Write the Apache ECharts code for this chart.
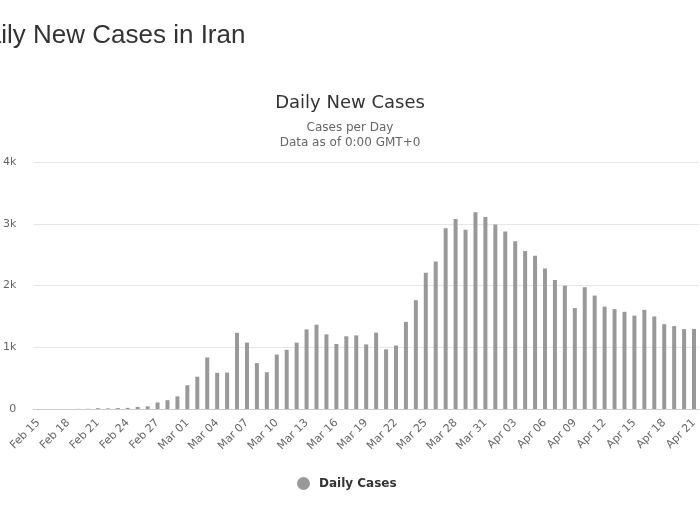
<!DOCTYPE html>
<html>
<head>
<meta charset="utf-8">
<script src="https://cdn.jsdelivr.net/npm/echarts@6/dist/echarts.min.js"></script>
<style>
  html, body { margin: 0; padding: 0; background: #fff; }
  #chart { width: 700px; height: 525px; }
</style>
</head>
<body>
<div id="chart"></div>
<script>
// dates shown on the x axis (one bar per day)
const days = [
  'Feb 15', 'Feb 16', 'Feb 17', 'Feb 18', 'Feb 19', 'Feb 20', 'Feb 21', 'Feb 22',
  'Feb 23', 'Feb 24', 'Feb 25', 'Feb 26', 'Feb 27', 'Feb 28', 'Feb 29',
  'Mar 01', 'Mar 02', 'Mar 03', 'Mar 04', 'Mar 05', 'Mar 06', 'Mar 07', 'Mar 08',
  'Mar 09', 'Mar 10', 'Mar 11', 'Mar 12', 'Mar 13', 'Mar 14', 'Mar 15', 'Mar 16',
  'Mar 17', 'Mar 18', 'Mar 19', 'Mar 20', 'Mar 21', 'Mar 22', 'Mar 23', 'Mar 24',
  'Mar 25', 'Mar 26', 'Mar 27', 'Mar 28', 'Mar 29', 'Mar 30', 'Mar 31',
  'Apr 01', 'Apr 02', 'Apr 03', 'Apr 04', 'Apr 05', 'Apr 06', 'Apr 07', 'Apr 08',
  'Apr 09', 'Apr 10', 'Apr 11', 'Apr 12', 'Apr 13', 'Apr 14', 'Apr 15', 'Apr 16',
  'Apr 17', 'Apr 18', 'Apr 19', 'Apr 20', 'Apr 21'
]

// new cases per day
const dailyCases = [
  0, 0, 0, 0, 2, 3, 13, 10, 15, 18, 34, 44, 106, 143, 205,
  385, 523, 835, 586, 591, 1234, 1076, 743, 595, 881, 958, 1075, 1289, 1365, 1209, 1053,
  1178, 1192, 1046, 1237, 966, 1028, 1411, 1762, 2206, 2389, 2926, 3076, 2901, 3186, 3110,
  2988, 2875, 2715, 2560, 2483, 2274, 2089, 1997, 1634, 1972, 1837, 1657, 1617, 1574, 1512, 1606,
  1499, 1374, 1343, 1294, 1297
]

const yTicks = [0, 1000, 2000, 3000, 4000]

const chartFont = "'DejaVu Sans', sans-serif"
const myChart = echarts.init(document.getElementById('chart'))
myChart.setOption({
  backgroundColor: '#fff',
  animation: false,
  // page heading, partly cut off on the left like the screenshot
  graphic: [{
    type: 'text',
    left: -32,
    top: 23,
    style: {
      text: 'Daily New Cases in Iran',
      font: "26px 'Liberation Sans', Arial, sans-serif",
      fill: '#333'
    }
  }],
  title: {
    text: 'Daily New Cases',
    subtext: 'Cases per Day\nData as of 0:00 GMT+0',
    left: 'center',
    top: 89,
    itemGap: 8,
    textStyle: { fontFamily: chartFont, fontSize: 18, fontWeight: 'normal', color: '#333' },
    subtextStyle: { fontFamily: chartFont, fontSize: 12, color: '#666', lineHeight: 15 }
  },
  legend: {
    data: ['Daily Cases'],
    left: 292,
    top: 472,
    icon: 'circle',
    itemWidth: 13,
    itemHeight: 13,
    textStyle: { fontFamily: chartFont, fontSize: 12, fontWeight: 'bold', color: '#333', padding: [0, 0, 0, 4] }
  },
  grid: {
    left: 33,
    top: 162,
    width: 670,
    bottom: 116,
    containLabel: false
  },
  xAxis: {
    type: 'category',
    data: days,
    boundaryGap: true,
    axisLine: { lineStyle: { color: '#ccc' } },
    axisTick: { show: false },
    axisLabel: {
      interval: 2,
      rotate: 45,
      margin: 12,
      fontFamily: chartFont,
      fontSize: 11,
      color: '#666'
    }
  },
  yAxis: {
    type: 'value',
    min: yTicks[0],
    max: yTicks[yTicks.length - 1],
    interval: 1000,
    axisLine: { show: false },
    axisTick: { show: false },
    splitLine: { lineStyle: { color: '#e6e6e6' } },
    axisLabel: {
      margin: 17,
      fontFamily: chartFont,
      fontSize: 11,
      color: '#666',
      formatter: v => v === 0 ? '0' : (v / 1000) + 'k'
    }
  },
  series: [{
    name: 'Daily Cases',
    type: 'bar',
    data: dailyCases,
    barWidth: 4,
    itemStyle: { color: '#999' }
  }]
})
</script>
</body>
</html>
